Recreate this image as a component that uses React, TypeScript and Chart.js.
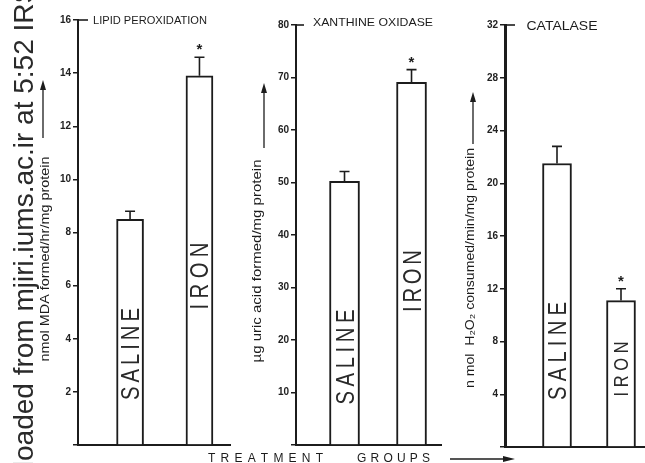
import React, { useEffect, useRef } from 'react';
import { Chart, registerables } from 'chart.js';

Chart.register(...registerables);

// ---------- data ----------
const groups = ['SALINE', 'IRON'];
const significant = [false, true];

const lipidMeans = [8.5, 13.9];
const lipidErrors = [0.3, 0.7];
const lipidTicks = [0, 2, 4, 6, 8, 10, 12, 14, 16];

const xanthineMeans = [50.2, 69.1];
const xanthineErrors = [1.9, 2.4];
const xanthineTicks = [0, 10, 20, 30, 40, 50, 60, 70, 80];

const catalaseMeans = [21.5, 11.1];
const catalaseErrors = [1.3, 0.9];
const catalaseTicks = [0, 4, 8, 12, 16, 20, 24, 28, 32];

const panelTitles = ['LIPID PEROXIDATION', 'XANTHINE OXIDASE', 'CATALASE'];
const axisTitles = [
  'nmol MDA formed/hr/mg protein',
  'µg uric acid formed/mg protein',
  'n mol  H₂O₂ consumed/min/mg protein',
];
const xAxisWords = ['TREATMENT', 'GROUPS'];
const watermark = 'Downloaded from mjiri.iums.ac.ir at 5:52 IRST';

const panelMeans = [lipidMeans, xanthineMeans, catalaseMeans];
const panelErrors = [lipidErrors, xanthineErrors, catalaseErrors];
const panelTicks = [lipidTicks, xanthineTicks, catalaseTicks];

// ---------- layout (pixels) ----------
const W = 645;
const H = 463;
const INK = '#1c1c1c';

const layouts = [
  {
    axisX: 78, right: 230, top: 20, bottom: 445, xMin: 0.25, xMax: 2.44, barW: 27, yW: 30,
    title: { x: 150, y: 20, len: 114, size: 11 },
    yTitle: { x: 46, y: 259, len: 205, arrowX: 43, arrowFrom: 138, arrowTo: 80 },
    labels: [ { y: 354, len: 92, size: 26 }, { y: 276, len: 67, size: 26 } ],
    stub: 10, axisWidth: 2,
  },
  {
    axisX: 296, right: 441, top: 25, bottom: 445, xMin: 0.276, xMax: 2.44, barW: 30, yW: 30,
    title: { x: 373, y: 22, len: 120, size: 11 },
    yTitle: { x: 258, y: 261, len: 203, arrowX: 264, arrowFrom: 148, arrowTo: 83 },
    labels: [ { y: 357, len: 95, size: 26 }, { y: 281, len: 62, size: 26 } ],
    stub: 8, axisWidth: 2,
  },
  {
    axisX: 505, right: 645, top: 25, bottom: 447, xMin: 0.1875, xMax: 2.375, barW: 29, yW: 30,
    title: { x: 562, y: 25, len: 71, size: 13 },
    yTitle: { x: 471, y: 268, len: 240, arrowX: 473, arrowFrom: 144, arrowTo: 92 },
    labels: [ { y: 351, len: 98, size: 26 }, { y: 369, len: 55, size: 21 } ],
    stub: 10, axisWidth: 3,
  },
];

// ---------- drawing helpers ----------
function drawSpaced(ctx: CanvasRenderingContext2D, text: string, cx: number, cy: number, len: number, font: string, rotate: boolean, squeeze = 1) {
  ctx.save();
  ctx.translate(cx, cy);
  if (rotate) ctx.rotate(-Math.PI / 2);
  ctx.font = font;
  ctx.textAlign = 'left';
  ctx.textBaseline = 'alphabetic';
  const chars = Array.from(text);
  const widths = chars.map((c) => ctx.measureText(c).width * squeeze);
  const natural = widths.reduce((a, b) => a + b, 0);
  const capH = ctx.measureText('H').actualBoundingBoxAscent;
  let gap = chars.length > 1 ? (len - natural) / (chars.length - 1) : 0;
  let x = -len / 2;
  let sq = squeeze;
  if (gap < 0) {
    sq = squeeze * len / natural;
    for (let i = 0; i < widths.length; i++) widths[i] *= len / natural;
    gap = 0;
  }
  chars.forEach((c, i) => {
    ctx.save();
    ctx.translate(x, capH / 2);
    ctx.scale(sq, 1);
    ctx.fillText(c, 0, 0);
    ctx.restore();
    x += widths[i] + gap;
  });
  ctx.restore();
}

function drawFitted(ctx: CanvasRenderingContext2D, text: string, cx: number, cy: number, len: number, font: string, rotate: boolean, caps: boolean) {
  ctx.save();
  ctx.translate(cx, cy);
  if (rotate) ctx.rotate(-Math.PI / 2);
  ctx.font = font;
  const w = ctx.measureText(text).width;
  ctx.scale(len / w, 1);
  ctx.textAlign = 'center';
  if (caps) {
    ctx.textBaseline = 'alphabetic';
    const capH = ctx.measureText('H').actualBoundingBoxAscent;
    ctx.fillText(text, 0, capH / 2);
  } else {
    ctx.textBaseline = 'middle';
    ctx.fillText(text, 0, 0);
  }
  ctx.restore();
}

function drawUpArrow(ctx: CanvasRenderingContext2D, x: number, from: number, to: number) {
  ctx.save();
  ctx.strokeStyle = INK;
  ctx.fillStyle = INK;
  ctx.lineWidth = 1.3;
  ctx.beginPath();
  ctx.moveTo(x, from);
  ctx.lineTo(x, to + 6);
  ctx.stroke();
  ctx.beginPath();
  ctx.moveTo(x, to);
  ctx.lineTo(x - 3, to + 10);
  ctx.lineTo(x + 3, to + 10);
  ctx.closePath();
  ctx.fill();
  ctx.restore();
}

function drawRightArrow(ctx: CanvasRenderingContext2D, from: number, to: number, y: number) {
  ctx.save();
  ctx.strokeStyle = INK;
  ctx.fillStyle = INK;
  ctx.lineWidth = 1.3;
  ctx.beginPath();
  ctx.moveTo(from, y);
  ctx.lineTo(to - 6, y);
  ctx.stroke();
  ctx.beginPath();
  ctx.moveTo(to, y);
  ctx.lineTo(to - 12, y - 3);
  ctx.lineTo(to - 12, y + 3);
  ctx.closePath();
  ctx.fill();
  ctx.restore();
}

function makePlugin(p: number) {
  return {
    id: 'annotate' + p,
    afterDatasetsDraw(chart: any) {
      const ctx: CanvasRenderingContext2D = chart.ctx;
      const xs = chart.scales.x;
      const ys = chart.scales.y;
      const L = layouts[p];
      const means = panelMeans[p];
      const errs = panelErrors[p];
      ctx.save();
      ctx.fillStyle = INK;
      ctx.strokeStyle = INK;

      // error bars, asterisks, bar labels
      means.forEach((m, i) => {
        const cx = xs.getPixelForValue(i + 1);
        const yTop = ys.getPixelForValue(m);
        const yErr = ys.getPixelForValue(m + errs[i]);
        ctx.lineWidth = 1.6;
        ctx.beginPath();
        ctx.moveTo(cx, yTop);
        ctx.lineTo(cx, yErr);
        ctx.moveTo(cx - 5, yErr);
        ctx.lineTo(cx + 5, yErr);
        ctx.stroke();
        if (significant[i]) {
          ctx.font = 'bold 15px "Liberation Sans"';
          ctx.textAlign = 'center';
          ctx.textBaseline = 'middle';
          ctx.fillText('*', cx, yErr - 7);
        }
        const lab = L.labels[i];
        ctx.fillStyle = '#2a2a2a';
        drawSpaced(ctx, groups[i], cx, lab.y, lab.len, `${lab.size}px "Liberation Sans"`, true, 0.78);
        ctx.fillStyle = INK;
      });

      // top stub of the axis
      ctx.lineWidth = 1.6;
      ctx.beginPath();
      ctx.moveTo(L.axisX - 1, chart.chartArea.top);
      ctx.lineTo(L.axisX + L.stub, chart.chartArea.top);
      ctx.stroke();

      // panel title
      drawFitted(ctx, panelTitles[p], L.title.x, L.title.y, L.title.len, `${L.title.size}px "Liberation Sans"`, false, true);

      // y-axis title and arrow
      drawFitted(ctx, axisTitles[p], L.yTitle.x, L.yTitle.y, L.yTitle.len, '12px "Liberation Sans", "DejaVu Sans"', true, false);
      drawUpArrow(ctx, L.yTitle.arrowX, L.yTitle.arrowFrom, L.yTitle.arrowTo);

      if (p === 0) {
        // x-axis caption
        drawSpaced(ctx, xAxisWords[0], 265.5, 457, 115, '12px "Liberation Sans"', false);
        drawSpaced(ctx, xAxisWords[1], 393.5, 457, 73, '12px "Liberation Sans"', false);
        drawRightArrow(ctx, 450, 515, 459);

        // watermark
        ctx.save();
        ctx.font = '28px "Liberation Sans"';
        ctx.fillStyle = '#2a2a2a';
        const pre = ctx.measureText('Downl').width;
        ctx.translate(33, 461 + pre);
        ctx.rotate(-Math.PI / 2);
        ctx.textAlign = 'left';
        ctx.textBaseline = 'alphabetic';
        ctx.fillText(watermark, 0, 0);
        ctx.restore();
      }
      ctx.restore();
    },
  };
}

function makeChart(canvas: HTMLCanvasElement, p: number) {
  const L = layouts[p];
  const means = panelMeans[p];
  const ticks = panelTicks[p];
  return new Chart(canvas, {
    type: 'bar',
    data: {
      datasets: [
        {
          data: means.map((v, i) => ({ x: i + 1, y: v })),
          backgroundColor: '#ffffff',
          borderColor: INK,
          borderWidth: 2,
          borderSkipped: 'bottom',
          barThickness: L.barW,
        } as any,
      ],
    },
    options: {
      animation: false,
      responsive: false,
      maintainAspectRatio: false,
      events: [],
      layout: {
        padding: { left: L.axisX - L.yW, right: W - L.right, top: L.top, bottom: H - L.bottom },
      },
      plugins: { legend: { display: false }, tooltip: { enabled: false }, title: { display: false } },
      scales: {
        x: {
          type: 'linear',
          min: L.xMin,
          max: L.xMax,
          offset: false,
          bounds: 'data',
          grid: { display: false, offset: false },
          ticks: { display: false },
          border: { display: true, color: INK, width: 2 },
          afterFit: (s: any) => { s.height = 0; },
        },
        y: {
          type: 'linear',
          min: ticks[0],
          max: ticks[ticks.length - 1],
          afterBuildTicks: (s: any) => { s.ticks = ticks.map((v) => ({ value: v })); },
          ticks: {
            callback: (v: any) => (v === 0 ? '' : String(v)),
            font: { family: '"Liberation Sans"', size: 10, weight: 'bold' },
            color: '#222',
            padding: 2,
          },
          grid: { display: true, drawOnChartArea: false, drawTicks: true, tickLength: 5, color: INK, lineWidth: 1.5 },
          border: { display: true, color: INK, width: L.axisWidth },
          afterFit: (s: any) => { s.width = L.yW; },
        },
      },
    } as any,
    plugins: [makePlugin(p)],
  });
}

export default function App() {
  const r0 = useRef<HTMLCanvasElement>(null);
  const r1 = useRef<HTMLCanvasElement>(null);
  const r2 = useRef<HTMLCanvasElement>(null);

  useEffect(() => {
    const charts = [r0, r1, r2].map((r, i) => makeChart(r.current as HTMLCanvasElement, i));
    return () => charts.forEach((c) => c.destroy());
  }, []);

  const cs: React.CSSProperties = { position: 'absolute', left: 0, top: 0, width: W, height: H };
  return (
    <div style={{ position: 'absolute', left: 0, top: 0, width: W, height: H, background: '#fff', overflow: 'hidden' }}>
      <canvas ref={r0} width={W} height={H} style={cs} />
      <canvas ref={r1} width={W} height={H} style={cs} />
      <canvas ref={r2} width={W} height={H} style={cs} />
    </div>
  );
}
